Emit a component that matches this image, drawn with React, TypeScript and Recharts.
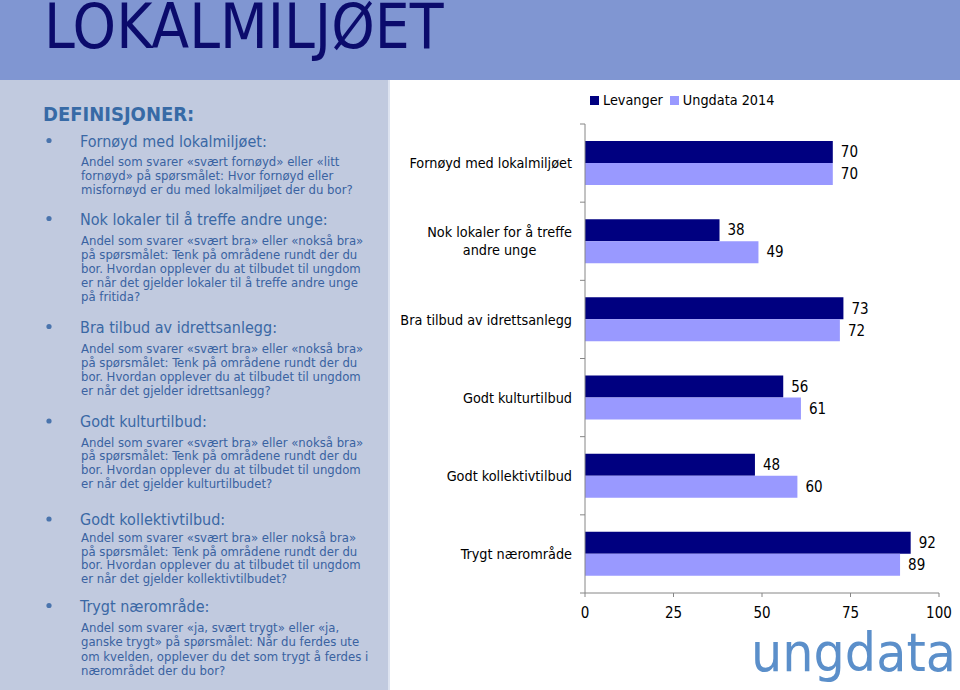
import React from "react";
import { BarChart, Bar, XAxis, YAxis, LabelList, Legend } from "recharts";

// ---------- data ----------
const categories = [
  "Fornøyd med lokalmiljøet",
  "Nok lokaler for å treffe\nandre unge",
  "Bra tilbud av idrettsanlegg",
  "Godt kulturtilbud",
  "Godt kollektivtilbud",
  "Trygt nærområde",
];
const levanger = [70, 38, 73, 56, 48, 92];
const ungdata2014 = [70, 49, 72, 61, 60, 89];
const seriesNames = ["Levanger", "Ungdata 2014"];
const xTicks = [0, 25, 50, 75, 100];

const pageTitle = "LOKALMILJØET";
const definitionsHeader = "DEFINISJONER:";
const definitionTitles = [
  "Fornøyd med lokalmiljøet:",
  "Nok lokaler til å treffe andre unge:",
  "Bra tilbud av idrettsanlegg:",
  "Godt kulturtilbud:",
  "Godt kollektivtilbud:",
  "Trygt nærområde:",
];
const definitionLines = [
  [
    "Andel som svarer «svært fornøyd» eller «litt",
    "fornøyd» på spørsmålet: Hvor fornøyd eller",
    "misfornøyd er du med lokalmiljøet der du bor?",
  ],
  [
    "Andel som svarer «svært bra» eller «nokså bra»",
    "på spørsmålet: Tenk på områdene rundt der du",
    "bor. Hvordan opplever du at tilbudet til ungdom",
    "er når det gjelder lokaler til å treffe andre unge",
    "på fritida?",
  ],
  [
    "Andel som svarer «svært bra» eller «nokså bra»",
    "på spørsmålet: Tenk på områdene rundt der du",
    "bor. Hvordan opplever du at tilbudet til ungdom",
    "er når det gjelder idrettsanlegg?",
  ],
  [
    "Andel som svarer «svært bra» eller «nokså bra»",
    "på spørsmålet: Tenk på områdene rundt der du",
    "bor. Hvordan opplever du at tilbudet til ungdom",
    "er når det gjelder kulturtilbudet?",
  ],
  [
    "Andel som svarer «svært bra» eller nokså bra»",
    "på spørsmålet: Tenk på områdene rundt der du",
    "bor. Hvordan opplever du at tilbudet til ungdom",
    "er når det gjelder kollektivtilbudet?",
  ],
  [
    "Andel som svarer «ja, svært trygt» eller «ja,",
    "ganske trygt» på spørsmålet: Når du ferdes ute",
    "om kvelden, opplever du det som trygt å ferdes i",
    "nærområdet der du bor?",
  ],
];
const logoText = "ungdata";

// ---------- layout / style ----------
const FONT = "'DejaVu Sans Condensed', 'DejaVu Sans', sans-serif";
const headingBaselines = [146.5, 224.5, 332.5, 427, 525, 611.5];
const descStarts = [165.5, 244.5, 353, 446.5, 542, 631.5];
const descSteps = [14, 14.1, 13.9, 13.8, 13.6, 14.5];

const CHART_W = 570;
const CHART_H = 610;
const MARGIN = { top: 44, right: 21, left: 0, bottom: 0 };
const Y_AXIS_W = 195;
const X_AXIS_H = 97;
const PLOT_H = CHART_H - MARGIN.top - X_AXIS_H;
const BAND = PLOT_H / categories.length;
const AXIS_COLOR = "#868686";
const DARK = "#000080";
const LIGHT = "#9999ff";
const TICK_SIZE = 5;
const TICK_MARGIN = 8;
const LABEL_SIZE = 15;
const CAT_SIZE = 14.3;

const data = categories.map((c, i) => ({
  category: c,
  levanger: levanger[i],
  ungdata: ungdata2014[i],
}));

let measureCtx: CanvasRenderingContext2D | null = null;
function measure(text: string, size: number) {
  if (!measureCtx) {
    const c = document.createElement("canvas");
    measureCtx = c.getContext("2d");
  }
  if (!measureCtx) return text.length * size * 0.5;
  measureCtx.font = `${size}px "DejaVu Sans Condensed", "DejaVu Sans", sans-serif`;
  return measureCtx.measureText(text).width;
}

function CategoryTick(props: any) {
  const { x, y, payload, index } = props;
  const axisX = x + TICK_SIZE + TICK_MARGIN;
  const lines = String(payload.value).split("\n");
  const widths = lines.map((l) => measure(l, CAT_SIZE));
  const maxW = Math.max(...widths);
  const centerX = x - maxW / 2;
  const lineH = 18;
  const firstY = y - ((lines.length - 1) * lineH) / 2;
  return (
    <g>
      <line x1={axisX - TICK_SIZE} x2={axisX} y1={y - BAND / 2} y2={y - BAND / 2} stroke={AXIS_COLOR} />
      {index === categories.length - 1 && (
        <line x1={axisX - TICK_SIZE} x2={axisX} y1={y + BAND / 2} y2={y + BAND / 2} stroke={AXIS_COLOR} />
      )}
      {lines.map((l, i) => (
        <text
          key={i}
          x={lines.length > 1 ? centerX : x}
          y={firstY + i * lineH}
          dy="0.36em"
          textAnchor={lines.length > 1 ? "middle" : "end"}
          fontFamily={FONT}
          fontSize={CAT_SIZE}
          fill="#000"
        >
          {l}
        </text>
      ))}
    </g>
  );
}

function LegendContent(props: any) {
  const { payload } = props;
  return (
    <div style={{ display: "flex", alignItems: "center", fontFamily: FONT, fontSize: CAT_SIZE, color: "#000", whiteSpace: "nowrap" }}>
      {(payload || []).map((p: any, i: number) => (
        <span key={i} style={{ display: "flex", alignItems: "center", marginRight: 7 }}>
          <span style={{ width: 9, height: 9, background: p.color, display: "inline-block", marginRight: 4 }} />
          {p.value}
        </span>
      ))}
    </div>
  );
}

export default function App() {
  const headColor = "#3a68a5";
  const descColor = "#3962a1";
  return (
    <div style={{ position: "absolute", left: 0, top: 0, width: 960, height: 690, overflow: "hidden", background: "#ffffff" }}>
      <svg width={960} height={690} style={{ position: "absolute", left: 0, top: 0 }}>
        <rect x={0} y={0} width={960} height={80} fill="#8096d2" />
        <rect x={0} y={80} width={388} height={610} fill="#c1cadf" />
        <rect x={388} y={80} width={2} height={610} fill="#dde3f0" />
        <text x={44} y={48} fontFamily={FONT} fontSize={61.5} fill="#0b0b6c">
          {pageTitle}
        </text>
        <text x={43} y={120.7} fontFamily={FONT} fontWeight="bold" fontSize={20} fill="#376aa6">
          {definitionsHeader}
        </text>
        {definitionTitles.map((t, i) => (
          <g key={i}>
            <circle cx={49} cy={headingBaselines[i] - 6} r={2.6} fill="#4a74ad" />
            <text x={80} y={headingBaselines[i]} fontFamily={FONT} fontSize={16} fill={headColor}>
              {t}
            </text>
            {definitionLines[i].map((l, j) => (
              <text key={j} x={81} y={descStarts[i] + j * descSteps[i]} fontFamily={FONT} fontSize={13} fill={descColor}>
                {l}
              </text>
            ))}
          </g>
        ))}
        <text
          x={751}
          y={671}
          fontFamily={FONT}
          fontSize={53}
          fill="#5b8fca"
          textLength={205}
          lengthAdjust="spacingAndGlyphs"
        >
          {logoText}
        </text>
      </svg>
      <div style={{ position: "absolute", left: 390, top: 80 }}>
        <BarChart width={CHART_W} height={CHART_H} data={data} layout="vertical" margin={MARGIN} barGap={0}>
          <XAxis
            type="number"
            domain={[0, 100]}
            ticks={xTicks}
            height={X_AXIS_H}
            stroke={AXIS_COLOR}
            tickSize={4}
            tickMargin={10}
            tick={{ fontSize: LABEL_SIZE, fill: "#000", fontFamily: FONT }}
            interval={0}
          />
          <YAxis
            type="category"
            dataKey="category"
            width={Y_AXIS_W}
            stroke={AXIS_COLOR}
            tickLine={false}
            tickSize={TICK_SIZE}
            tickMargin={TICK_MARGIN}
            tick={<CategoryTick />}
            interval={0}
          />
          <Legend
            layout="horizontal"
            verticalAlign="middle"
            align="center"
            wrapperStyle={{ top: 12, left: 200, width: "auto" }}
            content={<LegendContent />}
          />
          <Bar dataKey="levanger" name={seriesNames[0]} fill={DARK} barSize={22} isAnimationActive={false}>
            <LabelList dataKey="levanger" position="right" offset={8} fill="#000" fontSize={LABEL_SIZE} fontFamily={FONT} />
          </Bar>
          <Bar dataKey="ungdata" name={seriesNames[1]} fill={LIGHT} barSize={22} isAnimationActive={false}>
            <LabelList dataKey="ungdata" position="right" offset={8} fill="#000" fontSize={LABEL_SIZE} fontFamily={FONT} />
          </Bar>
        </BarChart>
      </div>
    </div>
  );
}
